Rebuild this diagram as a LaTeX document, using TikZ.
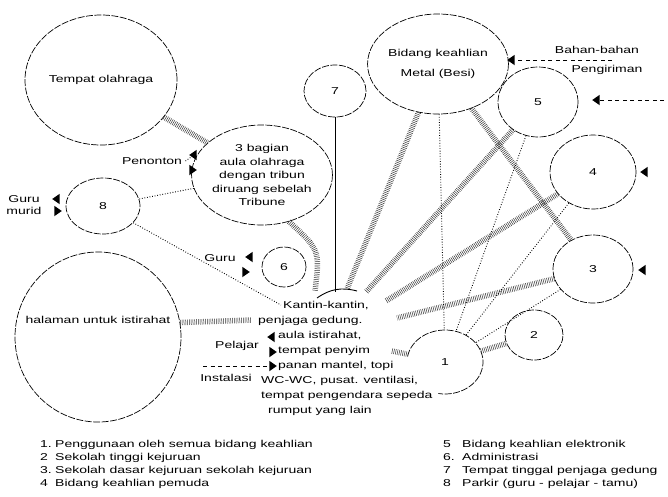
\documentclass[tikz,border=0pt]{standalone}
\usepackage{fontspec}
\setmainfont{Liberation Sans}[FakeStretch=1.4]
\usetikzlibrary{shapes.geometric}

\begin{document}
\begin{tikzpicture}[x=1pt,y=-1pt,font=\fontsize{10}{12}\selectfont,line join=round,
    bub/.style={ellipse,draw,line width=0.7pt,dash pattern=on 7pt off 1.5pt,inner sep=0pt,align=center},
    hatch/.style={line width=5.5pt,black!80,dash pattern=on 0.5pt off 1.3pt},
    dots/.style={line width=0.9pt,dash pattern=on 0.8pt off 1.8pt},
    strich/.style={line width=0.6pt,dash pattern=on 4pt off 3.5pt},
    tri/.style={isosceles triangle,isosceles triangle apex angle=70,fill,inner sep=0pt,minimum size=7.5pt},
    lft/.style={tri,shape border rotate=180}]
\useasboundingbox (0,0) rectangle (668,496);
% Bereiche
\node[bub,minimum width=152pt,minimum height=130pt] (olah) at (101,80) {Tempat olahraga};
\node[bub,minimum width=110pt,minimum height=100pt,font=\fontsize{10}{13.5}\selectfont] (aula) at (262,175)
    {3 bagian\\aula olahraga\\dengan tribun\\diruang sebelah\\Tribune};
\node[bub,minimum width=74pt,minimum height=56pt] (parkir) at (103,206) {8};
\node[bub,minimum width=62pt,minimum height=52pt] (rumah) at (335,91) {7};
\node[bub,minimum width=116pt,minimum height=100pt,font=\fontsize{10}{20}\selectfont] (metal) at (438,64)
    {Bidang keahlian\\Metal (Besi)};
\node[bub,minimum width=80pt,minimum height=70pt] (elek) at (538,102) {5};
\node[bub,minimum width=86pt,minimum height=74pt] (pemuda) at (593,172) {4};
\node[bub,minimum width=80pt,minimum height=68pt] (sd) at (593,269) {3};
\node[bub,minimum width=58pt,minimum height=50pt] (st) at (534,335) {2};
\node[ellipse,inner sep=0pt,minimum width=76pt,minimum height=64pt] (semua) at (445,362) {1};
\draw[line width=0.7pt,dash pattern=on 7pt off 1.5pt] ([shift={(170:38pt and 32pt)}]semua.center)
    arc[start angle=170,end angle=-100,x radius=38pt,y radius=32pt];
\node[bub,minimum width=44pt,minimum height=40pt] (admin) at (284,267) {6};
\node[bub,minimum width=166pt,minimum height=170pt,label={[yshift=17pt]center:halaman untuk istirahat}]
    (halaman) at (98,337) {};
% Kantin
\node[anchor=north west,inner sep=0pt,align=left,font=\fontsize{10}{15}\selectfont] (kantin) at (258,301)
    {\hspace{25pt}Kantin-kantin,\\penjaga gedung.\\\hspace{20pt}aula istirahat,\\\hspace{20pt}tempat penyim\\
     \hspace{20pt}panan mantel, topi\\\hspace{3pt}WC-WC, pusat. ventilasi,\\\hspace{3pt}tempat pengendara sepeda\\
     \hspace{10pt}rumput yang lain};
\coordinate (kA) at (315,291); \coordinate (kR) at (335,292);
\coordinate (kL) at (317,298); \coordinate (kK) at (357,291);
\coordinate (kM) at (347,289); \coordinate (kE) at (366,292);
\coordinate (kQ) at (386,301); \coordinate (kS) at (397,318);
\coordinate (kH) at (252,320); \coordinate (kP) at (281,305);
\coordinate (kO) at (392,351);
% Verbindungen
\draw[hatch] (olah) -- (aula);
\draw[hatch] (aula.-60) .. controls (320,250) .. (kA);
\draw[hatch] (metal) -- (kM);
\draw[hatch] (elek) -- (kE);
\draw[hatch] (pemuda) -- (kQ);
\draw[hatch] (sd) -- (kS);
\draw[hatch] (metal) -- (sd);
\draw[hatch] (halaman.10) -- (kH);
\draw[hatch] (kO) -- (semua);
\draw[hatch] (semua) -- (st);
\draw[dots] (aula) -- (parkir);
\draw[dots] (parkir) -- (kP);
\draw[dots] (metal) -- (semua);
\draw[dots] (elek) -- (semua);
\draw[dots] (pemuda) -- (semua);
\draw[dots] (sd) -- (semua);
\draw[line width=0.8pt] (rumah) -- (kR);
\draw[line width=0.9pt] (kL) to[bend left=25] (kK);
% Zugaenge
\node (penonton) at (152,161) {Penonton};
\node[lft] (pen1) at (194,155) {}; \node[tri] (pen2) at (192,170) {};
\draw[dots] (penonton.east) -- (pen1);
\node[align=center] (gurumurid) at (24,205) {Guru\\murid};
\node[lft] (gm1) at (57,199) {}; \node[tri] (gm2) at (57,211) {};
\node (guru) at (220,258) {Guru};
\node[lft] (gu1) at (250,257) {}; \node[tri] (gu2) at (245,272) {};
\node (pelajar) at (237,346) {Pelajar};
\node[lft] (pl1) at (272,337) {}; \node[tri] (pl2) at (272,352) {};
\node (instal) at (226,378) {Instalasi};
\node[tri] (in1) at (272,366) {}; \coordinate (cin) at (203,366);
\draw[strich] (cin) -- (in1);
\node (bahan) at (597,50) {Bahan-bahan};
\node (kirim) at (607,70) {Pengiriman};
\node[lft] (tbahan) at (512,60) {}; \coordinate (cbahan) at (612,60);
\draw[strich] (cbahan) -- (tbahan);
\node[lft] (telek) at (597,100) {}; \coordinate (celek) at (664,100);
\draw[strich] (celek) -- (telek);
\node[lft] (tpem) at (645,172) {};
\node[lft] (tsd) at (643,270) {};
% Keterangan
\node[anchor=north west,inner sep=0pt,font=\fontsize{10}{13}\selectfont] (ketkiri) at (40,438) {\begin{tabular}{@{}p{15pt}@{}l@{}}
    1. & Penggunaan oleh semua bidang keahlian\\ 2 & Sekolah tinggi kejuruan\\
    3. & Sekolah dasar kejuruan sekolah kejuruan\\ 4 & Bidang keahlian pemuda\end{tabular}};
\node[anchor=north west,inner sep=0pt,font=\fontsize{10}{13}\selectfont] (ketkanan) at (443,438) {\begin{tabular}{@{}p{19pt}@{}l@{}}
    5 & Bidang keahlian elektronik\\ 6. & Administrasi\\
    7 & Tempat tinggal penjaga gedung\\ 8 & Parkir (guru - pelajar - tamu)\end{tabular}};
\end{tikzpicture}
\end{document}
